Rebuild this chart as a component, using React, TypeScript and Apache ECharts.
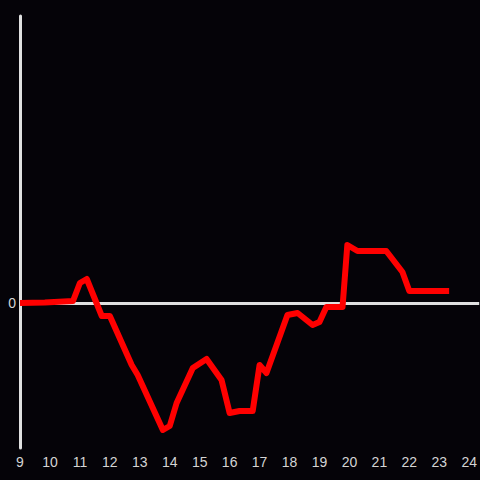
import React, { useEffect, useRef } from "react";
import * as echarts from "echarts";

const hours = [9.0, 9.83, 10.77, 11.0, 11.23, 11.73, 12.0, 12.73, 12.93, 13.77, 14.0, 14.23, 14.77, 15.23, 15.73, 16.0, 16.33, 16.77, 17.0, 17.23, 17.93, 18.27, 18.77, 19.0, 19.23, 19.77, 19.93, 20.27, 21.23, 21.77, 22.0, 23.33];
const values = [0, 0.5, 2, 20, 24, -13, -13, -62, -72, -127, -123, -100, -65, -56, -77, -110, -108, -108, -62, -70, -12, -10, -22, -19, -4, -4, 58, 52, 52, 31, 12, 12];
const xTicks = [9, 10, 11, 12, 13, 14, 15, 16, 17, 18, 19, 20, 21, 22, 23, 24];

export default function App() {
  const ref = useRef<HTMLDivElement>(null);
  useEffect(() => {
    document.body.style.margin = "0";
    document.body.style.background = "#050308";
    const chart = echarts.init(ref.current!, null, { renderer: "svg" });
    chart.setOption({
      animation: false,
      backgroundColor: "#050308",
      grid: { left: 20, right: 0, top: 16, bottom: 32 },
      xAxis: {
        type: "value",
        min: 9,
        max: 9 + 460 / 30,
        interval: 1,
        axisLine: { show: false },
        axisTick: { show: false },
        splitLine: { show: false },
        axisLabel: {
          color: "#d4d4d4",
          fontSize: 14,
          fontFamily: "Liberation Sans",
          margin: 7,
          showMaxLabel: false,
          formatter: (v: number) => (xTicks.includes(Math.round(v * 1000) / 1000) ? String(v) : ""),
        },
      },
      yAxis: {
        type: "value",
        min: -145,
        max: 287,
        interval: 145,
        axisLine: { show: true, lineStyle: { color: "#e0e0e0", width: 3 } },
        axisTick: { show: false },
        splitLine: { show: false },
        axisLabel: {
          color: "#d4d4d4",
          fontSize: 14,
          fontFamily: "Liberation Sans",
          margin: 4,
          showMinLabel: true,
          showMaxLabel: false,
          formatter: (v: number) => (v === 0 ? "0" : ""),
        },
      },
      series: [
        {
          type: "line",
          data: hours.map((h, i) => [h, values[i]]),
          showSymbol: false,
          lineStyle: { color: "#ff0000", width: 6, join: "round" },
          z: 3,
          markLine: {
            silent: true,
            symbol: "none",
            label: { show: false },
            lineStyle: { color: "#e0e0e0", width: 3, type: "solid" },
            data: [{ yAxis: 0 }],
            z: 1,
          },
        },
      ],
    });
    return () => chart.dispose();
  }, []);
  return <div ref={ref} style={{ width: 480, height: 480 }} />;
}
